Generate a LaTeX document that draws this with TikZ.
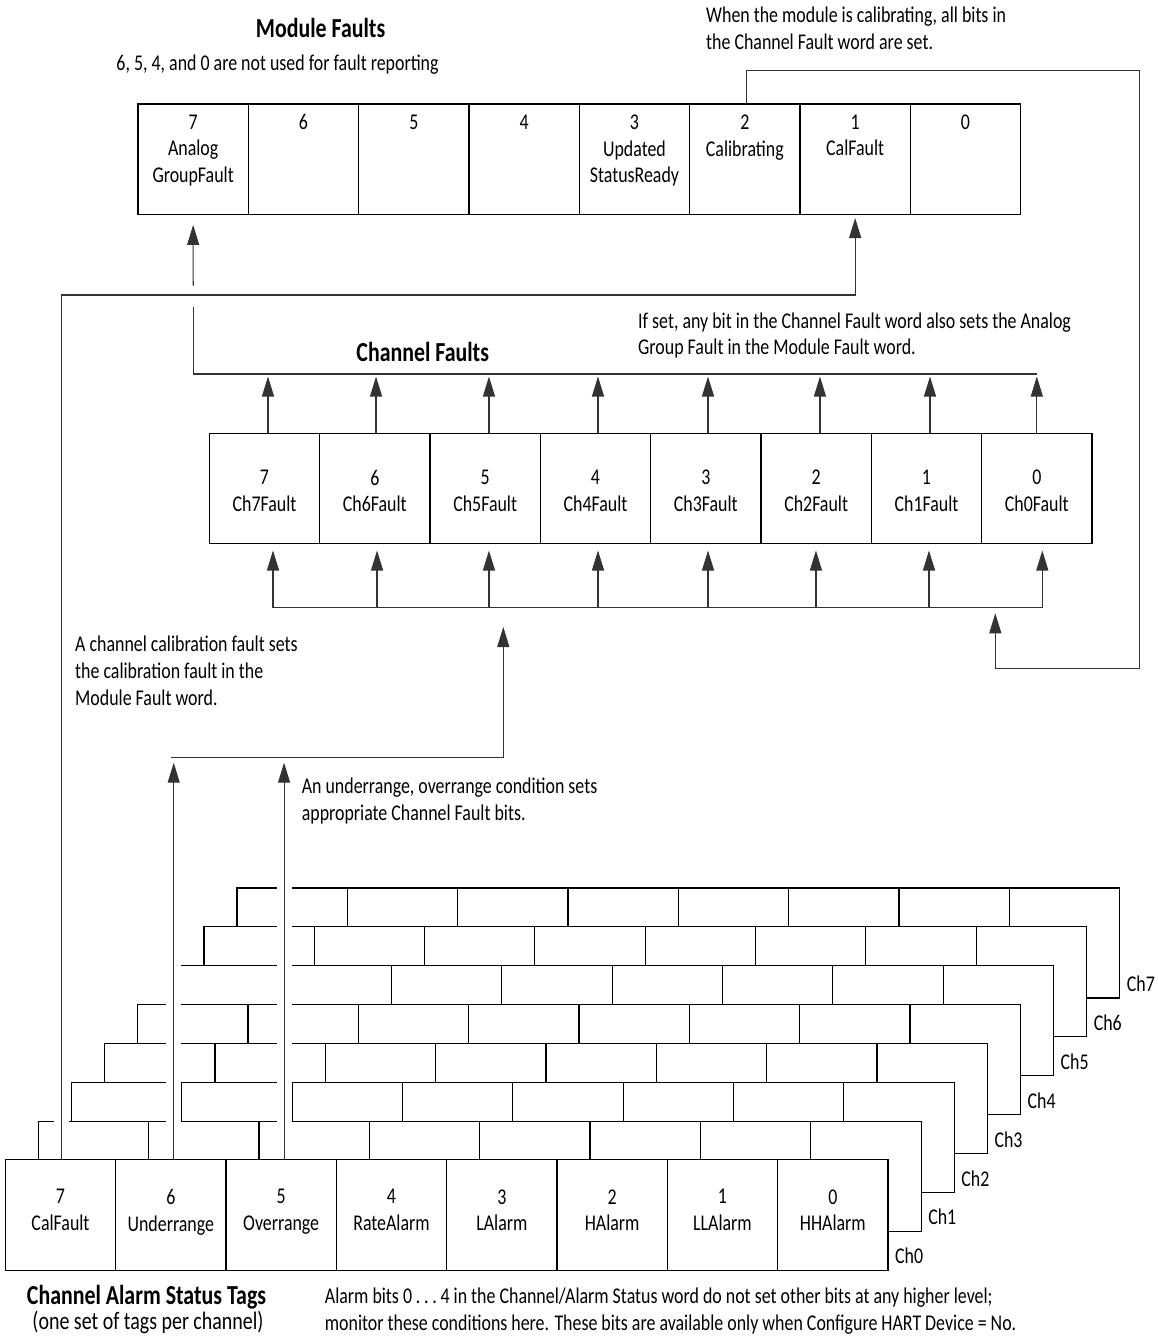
\documentclass[tikz,border=0pt]{standalone}
\usepackage{fontspec}
\setmainfont{Carlito}[FakeStretch=0.795]
\usetikzlibrary{arrows.meta,calc}

\begin{document}
\begin{tikzpicture}[x=1pt,y=-1pt,
    box/.style={black, line width=1.2pt},
    cell/.style={box, draw, fill=white, minimum width=110.33pt, minimum height=110.6pt, inner sep=0pt, outer sep=0pt},
    celltxt/.style={anchor=north, align=center, inner sep=0pt, font=\fontsize{22.5}{26.7}\selectfont},
    notetxt/.style={anchor=north west, align=left, inner sep=0pt, font=\fontsize{22.5}{27}\selectfont},
    heading/.style={inner sep=0pt, font=\bfseries\fontsize{27.5}{31}\selectfont},
    chlbl/.style={anchor=west, inner sep=0pt, font=\fontsize{22.5}{25}\selectfont},
    wire/.style={black!80, line width=1.1pt},
    arr/.style={wire, -{Triangle[length=20pt,width=12pt]}},
    halo/.style={white, line width=15pt}]

    \useasboundingbox (0,0) rectangle (1157,1339);

    % module fault word
    \node[heading] (modhead) at (320.6,27.7) {Module Faults};
    \node[notetxt, anchor=base] (modnote) at (277.5,70) {6, 5, 4, and 0 are not used for fault reporting};
    \node[notetxt] (calnote) at (706,6.5) {When the module is calibrating, all bits in\\the Channel Fault word are set.};
    \foreach \b/\txt [count=\i from 0] in {7/{7\\Analog\\GroupFault},6/6,5/5,4/4,3/{3\\Updated\\StatusReady},2/{2\\Calibrating},1/{1\\CalFault},0/0} {
        \node[cell] (mf\b) at ({193.17+110.33*\i},159.35) {};
        \node[celltxt] (mft\b) at ($(mf\b.north)+(0,10.5)$) {\txt};
    }

    % channel fault word
    \node[heading] (cfhead) at (422.7,352) {Channel Faults};
    \node[notetxt, font=\fontsize{22.5}{25.5}\selectfont] (ifnote) at (638,312.8) {If set, any bit in the Channel Fault word also sets the Analog\\Group Fault in the Module Fault word.};
    \foreach \b [count=\i from 0] in {7,6,...,0} {
        \node[cell] (cf\b) at ({264.5+110.33*\i},488.5) {};
        \node[celltxt] (cft\b) at ($(cf\b.north)+(0,36.5)$) {\b\\Ch\b Fault};
    }

    % channel faults -> analog group fault
    \coordinate (ubusL) at (193.2,374);
    \coordinate (ubusR) at (1036.8,374);
    \coordinate (calrow) at (0,295);
    \draw[wire] (ubusL) -- (ubusR);
    \foreach \b/\dx in {7/3.5,6/1.2,5/3.8,4/2.5,3/2.2,2/3.8,1/3.5,0/0}
        \draw[arr] ($(cf\b.north)+(\dx,0)$) -- ($(cf\b.north |- ubusL)+(\dx,2.5)$);
    \draw[wire] (ubusL) -- ($(ubusL |- calrow)+(0,11.5)$);
    \draw[arr] ($(ubusL |- calrow)+(0,-9.5)$) -- ($(mf7.south)+(0,10.3)$);

    % bus under the channel fault word
    \coordinate (lbusL) at (273.3,607.7);
    \coordinate (lbusR) at (1042.3,607.7);
    \draw[wire] (lbusL) -- (lbusR);
    \foreach \b/\dx in {7/8.5,6/2.2,5/3.8,4/2.5,3/2.2,2/-0.2,1/2.5,0/5.5}
        \draw[arr] ($(cf\b.south |- lbusL)+(\dx,0)$) -- ($(cf\b.south)+(\dx,6.7)$);

    % calibrating sets all channel faults
    \coordinate (calA) at (1139.3,70.7);
    \coordinate (calB) at (995.3,668.3);
    \draw[arr] ($(mf2.north)+(2,0)$) |- (calA) |- (calB) -- ($(calB |- lbusL)+(0,5.6)$);

    % under/overrange -> channel faults
    \coordinate (alL) at (171,757.5);
    \coordinate (alR) at (503.3,757.5);
    \draw[arr] (alL) -- (alR) -- ($(alR |- lbusL)+(0,19.3)$);

    \node[notetxt] (acnote) at (75,635.8) {A channel calibration fault sets\\the calibration fault in the\\Module Fault word.};
    \node[notetxt] (urnote) at (301.6,777.8) {An underrange, overrange condition sets\\appropriate Channel Fault bits.};

    % channels 7..1 behind
    \foreach \k in {7,6,...,1} {
        \filldraw[box, fill=white] ({5.3+33.1*\k},{1160-38.86*\k}) rectangle ++(882.7,110);
        \foreach \j in {1,...,7}
            \draw[box] ({5.3+33.1*\k+110.33*\j},{1160-38.86*\k}) -- ++(0,110);
    }

    % channel 0 in front
    \foreach \b/\txt [count=\i from 0] in {7/CalFault,6/Underrange,5/Overrange,4/RateAlarm,3/LAlarm,2/HAlarm,1/LLAlarm,0/HHAlarm} {
        \node[cell] (cas\b) at ({60.5+110.33*\i},1215) {};
        \node[celltxt] (cast\b) at ($(cas\b.north)+(0,29.5)$) {\b\\\txt};
    }

    \foreach \b/\dx in {7/1.2,6/2.9,5/2.9}
        \draw[halo] ($(cas\b.north)+(\dx,-0.7)$) -- ++(0,-280);
    \foreach \b/\dx in {6/2.9,5/2.9}
        \draw[arr] ($(cas\b.north)+(\dx,0)$) -- ($(cas\b.north |- alL)+(\dx,5.2)$);
    \draw[arr] ($(cas7.north)+(1.2,0)$) |- (mf1.south |- calrow) -- ($(mf1.south)+(0,3.4)$);

    \foreach \k in {0,...,7}
        \node[chlbl] (ch\k) at ({895+33.1*\k},{1256-38.86*\k}) {Ch\k};

    \node[heading, anchor=base] (cashead) at (146.5,1304.5) {Channel Alarm Status Tags};
    \node[notetxt, anchor=base, font=\fontsize{25.1}{27}\selectfont] (casnote) at (148,1329.5) {(one set of tags per channel)};
    \node[notetxt] (alnote) at (324.7,1287.3) {Alarm bits 0\,.\,.\,.\,4 in the Channel/Alarm Status word do not set other bits at any higher level;\\monitor these conditions here. These bits are available only when Configure HART Device = No.};
\end{tikzpicture}
\end{document}
